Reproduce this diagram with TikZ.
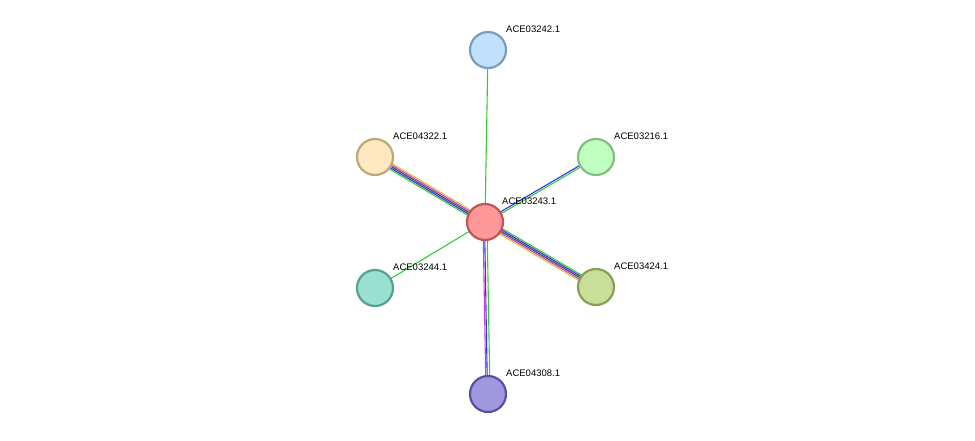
\documentclass[tikz,border=0pt]{standalone}
\usepackage{fontspec}
\setmainfont{Liberation Sans}
\definecolor{eg}{HTML}{33CC33}\definecolor{eb}{HTML}{3333EE}\definecolor{em}{HTML}{DD33DD}
\definecolor{ek}{HTML}{444444}\definecolor{ey}{HTML}{CCCC33}
\begin{document}
\begin{tikzpicture}[x=1pt,y=-1pt,
  prot/.style={circle,minimum size=36pt,inner sep=0pt,line width=2.2pt},
  lab/.style={font=\fontsize{9.5}{11}\selectfont,anchor=south west,inner sep=0pt},
  ed/.style={line width=1.1pt}]
\useasboundingbox (0,0) rectangle (975,440);
\coordinate (c) at (485,222);
\coordinate (a1) at (488,50);\coordinate (a2) at (375,157);\coordinate (a3) at (596,157);
\coordinate (a4) at (375,288);\coordinate (a5) at (596,287);\coordinate (a6) at (488,394);
% edges
\draw[ed,eg] (c) -- (a1);
\draw[ed,eg] (c) -- (a4);
\foreach \col/\o in {ey/3,em/1.5,ek/0,eb/-1.5,eg/-3}{\draw[ed,\col,transform canvas={shift={(0.509*\o,-0.861*\o)}}] (c) -- (a2);}
\foreach \col/\o in {eg/3,eb/1.5,ek/0,em/-1.5,ey/-3}{\draw[ed,\col,transform canvas={shift={(0.509*\o,-0.861*\o)}}] (c) -- (a5);}
\foreach \col/\o in {eb/-0.9,eg/0.9}{\draw[ed,\col,transform canvas={shift={(0.509*\o,0.861*\o)}}] (c) -- (a3);}
\foreach \col/\o in {em/-2,eb/-0.5,eg/2}{\draw[ed,\col,transform canvas={shift={(\o,0)}}] (c) -- (a6);}
% nodes
\node[prot,fill={rgb,255:red,255;green,153;blue,153},draw={rgb,255:red,192;green,85;blue,85}] (n0) at (c) {};
\node[prot,fill={rgb,255:red,192;green,224;blue,251},draw={rgb,255:red,122;green,157;blue,186}] (n1) at (a1) {};
\node[prot,fill={rgb,255:red,255;green,232;blue,192},draw={rgb,255:red,191;green,168;blue,120}] (n2) at (a2) {};
\node[prot,fill={rgb,255:red,192;green,255;blue,192},draw={rgb,255:red,128;green,191;blue,128}] (n3) at (a3) {};
\node[prot,fill={rgb,255:red,153;green,224;blue,208},draw={rgb,255:red,85;green,160;blue,144}] (n4) at (a4) {};
\node[prot,fill={rgb,255:red,200;green,223;blue,152},draw={rgb,255:red,136;green,159;blue,88}] (n5) at (a5) {};
\node[prot,fill={rgb,255:red,160;green,152;blue,222},draw={rgb,255:red,90;green,80;blue,160}] (n6) at (a6) {};
% labels
\node[lab] (l0) at (502,205) {ACE03243.1};
\node[lab] (l1) at (506,33) {ACE03242.1};
\node[lab] (l2) at (393,140) {ACE04322.1};
\node[lab] (l3) at (614,140) {ACE03216.1};
\node[lab] (l4) at (393,271) {ACE03244.1};
\node[lab] (l5) at (614,270) {ACE03424.1};
\node[lab] (l6) at (506,377) {ACE04308.1};
\end{tikzpicture}
\end{document}
